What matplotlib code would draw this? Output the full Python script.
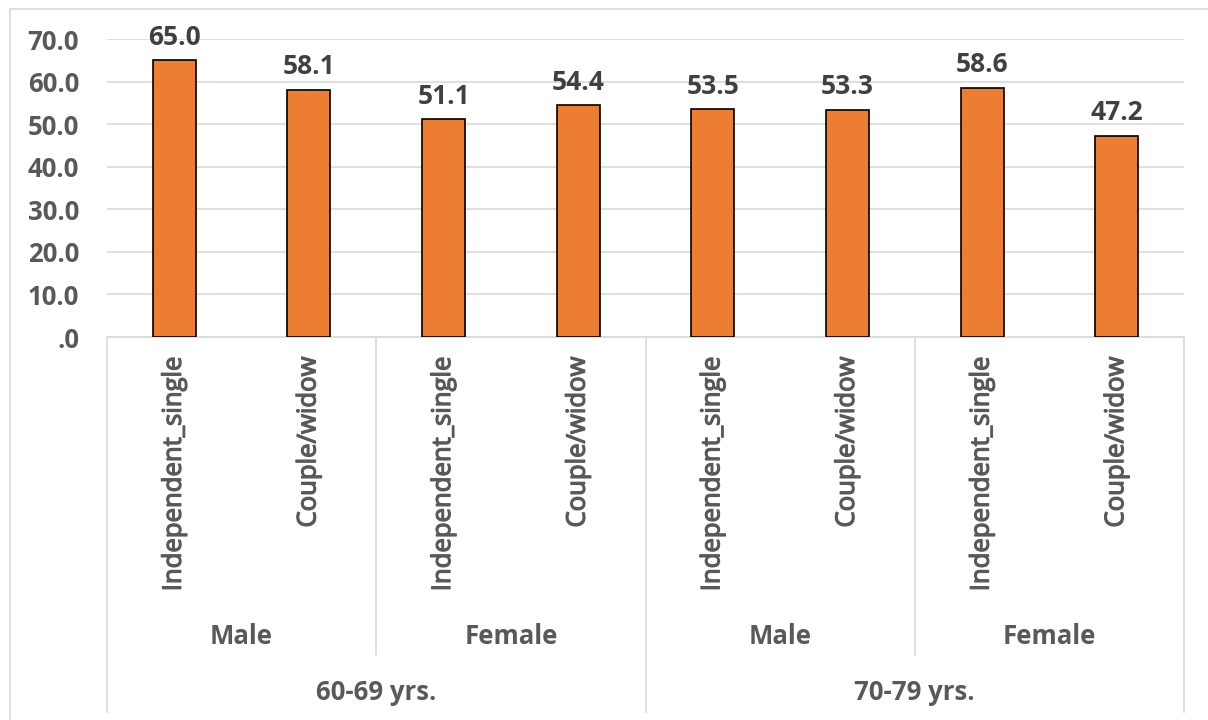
import matplotlib
matplotlib.use("Agg")
import matplotlib.pyplot as plt
from matplotlib import transforms
from matplotlib import patheffects
from matplotlib.patches import Rectangle
from matplotlib.lines import Line2D

# Data
age_groups = ["60-69 yrs.", "70-79 yrs."]
sexes = ["Male", "Female"]
living = ["Independent_single", "Couple/widow"]
values = [65.0, 58.1, 51.1, 54.4, 53.5, 53.3, 58.6, 47.2]
y_ticks = [0, 10, 20, 30, 40, 50, 60, 70]

W, H = 1208, 720
DPI = 100
plt.rcParams["font.family"] = ["Open Sans", "DejaVu Sans"]

fig = plt.figure(figsize=(W / DPI, H / DPI), dpi=DPI)
fig.patch.set_facecolor("white")


def fy(py):
    """Figure fraction for a pixel row measured from the top."""
    return 1 - py / H


left_px, right_px, top_px, zero_px = 107, 1184, 39, 337
ax = fig.add_axes([left_px / W, fy(zero_px), (right_px - left_px) / W, (zero_px - top_px) / H])

grid_col = "#D9D9D9"
tick_col = "#595959"
label_col = "#404040"
bar_col = "#ED7D31"

n = len(values)
xs = [i + 0.5 for i in range(n)]
ax.bar(xs, values, width=0.32, color=bar_col, edgecolor="black", linewidth=1.2, zorder=3)

for x, v in zip(xs, values):
    ax.annotate(f"{v:.1f}", (x, v), xytext=(0, 7), textcoords="offset points",
                ha="center", va="bottom", fontsize=19, fontweight="bold",
                color=label_col, annotation_clip=False)

ax.set_xlim(0, n)
ax.set_ylim(0, 70)
ax.set_yticks(y_ticks)
ax.set_yticklabels([f"{t:.1f}".lstrip("0") if t < 1 else f"{t:.1f}" for t in y_ticks],
                   fontsize=18.5, fontweight="bold", color=tick_col)
ax.tick_params(axis="y", length=0, pad=20)
ax.set_xticks([])
ax.yaxis.grid(True, color=grid_col, linewidth=1.2, zorder=0)
ax.set_axisbelow(True)
for s in ["top", "right", "left"]:
    ax.spines[s].set_visible(False)
ax.spines["bottom"].set_color(grid_col)
ax.spines["bottom"].set_linewidth(1.2)

# Multi-level category axis below the plot
bt = transforms.blended_transform_factory(ax.transData, fig.transFigure)
thicken = [patheffects.withStroke(linewidth=0.9, foreground=tick_col)]

# innermost level: rotated living-arrangement labels
for i, x in enumerate(xs):
    ax.text(x, fy(356), living[i % 2], transform=bt, rotation=90,
            ha="center", va="top", fontsize=18.5, color=tick_col,
            path_effects=thicken, clip_on=False)

# middle level: sex labels and separators
for j in range(len(age_groups) * len(sexes)):
    cx = j * 2 + 1
    ax.text(cx, fy(637), sexes[j % 2], transform=bt, ha="center", va="center",
            fontsize=18.5, fontweight="bold", color=tick_col, clip_on=False)
for j in range(1, len(age_groups) * len(sexes), 2):
    ax.add_line(Line2D([j * 2, j * 2], [fy(zero_px), fy(655)], transform=bt,
                       color=grid_col, linewidth=1.2, clip_on=False))

# outer level: age-group labels and separators
for k, g in enumerate(age_groups):
    cx = k * 4 + 2
    ax.text(cx, fy(693), g, transform=bt, ha="center", va="center",
            fontsize=18.5, fontweight="bold", color=tick_col, clip_on=False)
for k in range(len(age_groups) + 1):
    ax.add_line(Line2D([k * 4, k * 4], [fy(zero_px), fy(712)], transform=bt,
                       color=grid_col, linewidth=1.2, clip_on=False))

# chart frame
fig.patches.append(Rectangle((10 / W, fy(H + 20)), (W + 20) / W, (H + 11) / H,
                             transform=fig.transFigure, fill=False,
                             edgecolor=grid_col, linewidth=1.2))

fig.savefig("out.png", dpi=DPI)
